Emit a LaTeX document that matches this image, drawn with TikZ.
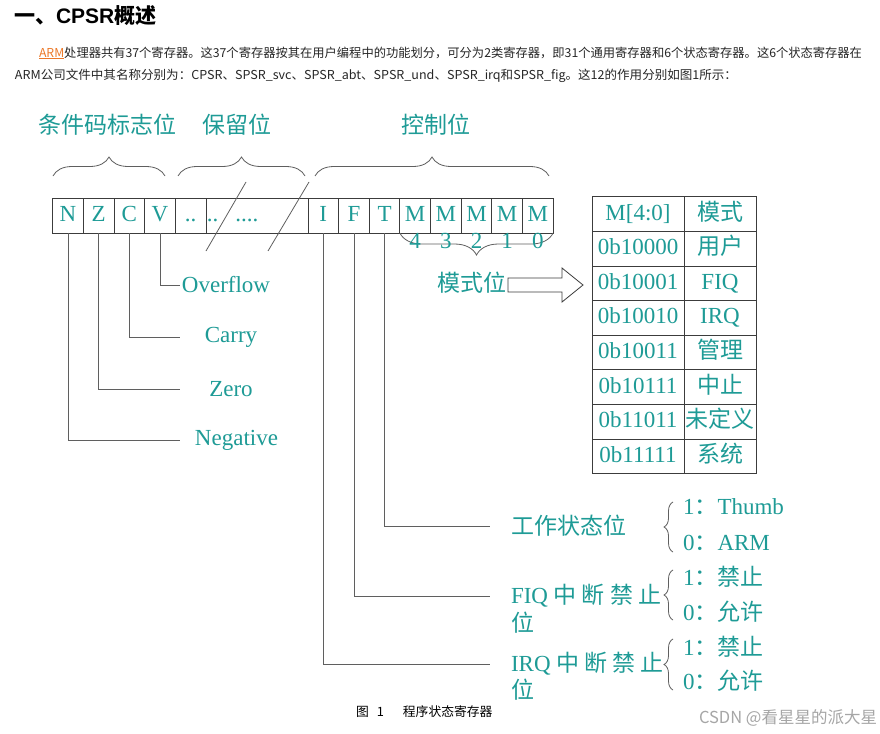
\documentclass[tikz,border=0pt]{standalone}
\usepackage{fontspec}
\usepackage{graphicx}
\setmainfont{Liberation Serif}
\newfontfamily\cjk{Noto Sans CJK SC}
\newfontfamily\headsans{Liberation Sans}
\usetikzlibrary{positioning,decorations.pathreplacing}

\definecolor{cpsrteal}{RGB}{30,155,150}
\definecolor{cellline}{RGB}{60,60,60}
\definecolor{wireline}{RGB}{95,95,95}
\definecolor{linkorange}{RGB}{236,120,40}

\newcommand{\zh}[1]{{\cjk #1}}
\newcommand{\figfont}{\fontsize{23}{26}\selectfont}

\begin{document}
\begin{tikzpicture}[x=1pt,y=-1pt,
  every node/.style={inner sep=0pt, outer sep=0pt},
  txt/.style={text=cpsrteal, font=\figfont},
  bitcell/.style={txt, draw=cellline, line width=0.8pt, minimum width=\cw,
    minimum height=35pt, text height=15.5pt, text depth=3.5pt},
  tabcell/.style={bitcell, minimum height=34.6pt},
  wire/.style={draw=wireline, line width=0.8pt},
  curly/.style={wire, decorate, decoration={brace, amplitude=#1}}]

  % Parameters
  \def\cw{30.65pt}

  % Page
  \fill[white] (0,0) rectangle (880,733);
  \useasboundingbox (0,0) rectangle (880,733);

  % Heading and text
  \node[anchor=west, font=\fontsize{21}{24}\selectfont\bfseries] (title) at (14,16)
    {\cjk 一、{\headsans CPSR}概述};
  \node[anchor=west, text=black!85] (para1) at (39,53)
    {\resizebox{823pt}{\height}{\cjk\fontsize{12.3}{14}\selectfont{\color{linkorange}\underline{ARM}}处理器共有37个寄存器。这37个寄存器按其在用户编程中的功能划分，可分为2类寄存器，即31个通用寄存器和6个状态寄存器。这6个状态寄存器在}};
  \node[anchor=west, text=black!85] (para2) at (15,76)
    {\resizebox{722pt}{\height}{\cjk\fontsize{12.3}{14}\selectfont ARM公司文件中其名称分别为：CPSR、SPSR\_svc、SPSR\_abt、SPSR\_und、SPSR\_irq和SPSR\_fig。这12的作用分别如图1所示：}};

  % Group labels
  \node[txt] (condlbl) at (107,125) {\zh{条件码标志位}};
  \node[txt] (rsvlbl) at (237,125) {\zh{保留位}};
  \node[txt] (ctrllbl) at (436,125) {\zh{控制位}};

  % Group braces
  \draw[curly=19pt] (53,176) -- (165,176);
  \draw[curly=19pt] (178,176) -- (305,176);
  \draw[curly=19pt] (315,176) -- (549,176);

  % Register cells
  \node[bitcell] (N) at (68,215.5) {N};
  \node[bitcell, right=0pt of N] (Z) {Z};
  \node[bitcell, right=0pt of Z] (C) {C};
  \node[bitcell, right=0pt of C] (V) {V};
  \node[bitcell, right=0pt of V] (rsv) {..};
  \node[bitcell, right=0pt of rsv, minimum width=102pt] (rsvwide)
    {\makebox[100pt][l]{..\hspace{17pt}....}};
  \node[bitcell, right=0pt of rsvwide] (I) {I};
  \node[bitcell, right=0pt of I] (F) {F};
  \node[bitcell, right=0pt of F] (T) {T};
  \foreach \k [count=\j from 0] in {4,3,2,1,0}
    \node[bitcell] (M\k) at ({415.2+\j*30.65},215.5) {M};

  % Mode bits
  \draw[curly=22pt] (M0.south east) -- (M4.south west);
  \foreach \k in {4,3,2,1,0}
    \node[txt, anchor=north] (d\k) at (M\k.south) {\k};

  % Break marks
  \draw[wire] (206,251) -- (246,182);
  \draw[wire] (268,251) -- (309,182);

  % Condition flags
  \node[txt, anchor=west, minimum width=92pt] (ovf) at (180,285) {Overflow};
  \node[txt, anchor=west, minimum width=102pt] (cry) at (180,337) {Carry};
  \node[txt, anchor=west, minimum width=102pt] (zro) at (180,389) {Zero};
  \node[txt, anchor=west, minimum width=113pt] (neg) at (180,440) {Negative};
  \draw[wire] (V.south) |- (ovf.west);
  \draw[wire] (C.south) |- (cry.west);
  \draw[wire] (Z.south) |- (zro.west);
  \draw[wire] (N.south) |- (neg.west);

  % Mode arrow
  \node[txt] (modelbl) at (472,283) {\zh{模式位}};
  \draw[draw=cellline, fill=white, line width=0.8pt] (508,278) -- (562,278) -- (562,268)
    -- (583,285) -- (562,302) -- (562,292) -- (508,292) -- cycle;

  % Mode table
  \foreach \code/\mode [count=\r from 0] in {M[4:0]/\zh{模式}, 0b10000/\zh{用户},
      0b10001/FIQ, 0b10010/IRQ, 0b10011/\zh{管理}, 0b10111/\zh{中止},
      0b11011/\zh{未定义}, 0b11111/\zh{系统}} {
    \node[tabcell, minimum width=92pt] (code\r) at (638,{214+34.6*\r}) {\code};
    \node[tabcell, minimum width=72pt] (mode\r) at (720,{214+34.6*\r}) {\mode};
  }

  % Control bits
  \node[txt, anchor=west, inner xsep=21pt] (thm) at (490,526) {\zh{工作状态位}};
  \node[txt, anchor=west, inner xsep=21pt] (fiq) at (490,596) {FIQ \zh{中 断 禁 止}};
  \node[txt, anchor=west] (fiqw) at (511,623) {\zh{位}};
  \node[txt, anchor=west, inner xsep=21pt] (irq) at (490,664) {IRQ \zh{中 断 禁 止}};
  \node[txt, anchor=west] (irqw) at (511,690) {\zh{位}};
  \draw[wire] (T.south) |- (thm.west);
  \draw[wire] (F.south) |- (fiq.west);
  \draw[wire] (I.south) |- (irq.west);

  % Values
  \draw[curly=9pt] (673,552) -- (673,502);
  \draw[curly=9pt] (673,620) -- (673,570);
  \draw[curly=9pt] (673,690) -- (673,639);
  \node[txt, anchor=west] (t1) at (683,507) {1\zh{：}Thumb};
  \node[txt, anchor=west] (t0) at (683,543) {0\zh{：}ARM};
  \node[txt, anchor=west] (f1) at (683,577) {1\zh{：禁止}};
  \node[txt, anchor=west] (f0) at (683,612) {0\zh{：允许}};
  \node[txt, anchor=west] (i1) at (683,647) {1\zh{：禁止}};
  \node[txt, anchor=west] (i0) at (683,681) {0\zh{：允许}};

  % Caption and mark
  \node[anchor=west] (cap) at (356,712)
    {\cjk\fontsize{12.8}{14}\selectfont 图\hspace{8pt}1\hspace{19pt}程序状态寄存器};
  \node[anchor=east, text=black!35] (mark) at (877,718)
    {\cjk\fontsize{16.5}{18}\selectfont CSDN @看星星的派大星};
\end{tikzpicture}
\end{document}
